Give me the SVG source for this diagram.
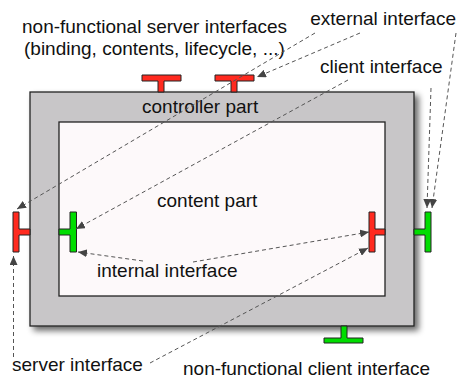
<svg xmlns="http://www.w3.org/2000/svg" width="460" height="378" viewBox="0 0 460 378">
  <style>
    text { font-family: "Liberation Sans", Arial, sans-serif; font-size: 19px; fill: #111; }
    .outer { fill: #c8c6c8; stroke: #222; stroke-width: 1.3; }
    .inner { fill: #fdf9fa; stroke: #222; stroke-width: 1.3; }
    .red { fill: #ff2a1f; stroke: #222; stroke-width: 1; }
    .green { fill: #00dd00; stroke: #222; stroke-width: 1; }
    .conn { fill: none; stroke: #555; stroke-width: 1; stroke-dasharray: 4 3; marker-end: url(#arrow); }
  </style>
  <defs>
    <marker id="arrow" markerUnits="userSpaceOnUse" markerWidth="10" markerHeight="8" refX="9" refY="4" orient="auto">
      <path d="M0,0 L9,4 L0,8 Z" fill="#444"/>
    </marker>
    <filter id="shadow" x="-10%" y="-10%" width="130%" height="130%">
      <feGaussianBlur in="SourceAlpha" stdDeviation="3"/>
      <feOffset dx="4" dy="4" result="b"/>
      <feComponentTransfer><feFuncA type="linear" slope="0.6"/></feComponentTransfer>
      <feMerge><feMergeNode/><feMergeNode in="SourceGraphic"/></feMerge>
    </filter>
  </defs>

  <g id="component">
    <rect class="outer" x="30" y="92" width="384" height="234" filter="url(#shadow)"/>
    <text x="142" y="113">controller part</text>
  </g>
  <g id="content">
    <rect class="inner" x="59" y="122" width="326" height="174"/>
    <text x="157" y="207">content part</text>
  </g>

  <g id="nf-server-1"><path class="red" d="M142,75 H181 V81 H164 V92 H158 V81 H142 Z"/></g>
  <g id="nf-server-2"><path class="red" d="M215,75 H254 V81 H237 V92 H231 V81 H215 Z"/></g>
  <g id="ext-server"><path class="red" d="M13,212 H19 V229 H30 V235 H19 V252 H13 Z"/></g>
  <g id="int-client"><path class="green" d="M70,212 H76.5 V252 H70 V235 H59 V229 H70 Z"/></g>
  <g id="int-server"><path class="red" d="M369,212 H375 V229 H385 V235 H375 V252 H369 Z"/></g>
  <g id="ext-client"><path class="green" d="M425,212 H431 V252 H425 V235 H414 V229 H425 Z"/></g>
  <g id="nf-client"><path class="green" d="M341,326 H347 V338 H363 V343 H324 V338 H341 Z"/></g>

  <g id="labels">
    <text x="22" y="33">non-functional server interfaces</text>
    <text x="24" y="55">(binding, contents, lifecycle, ...)</text>
    <text x="456" y="25" text-anchor="end">external interface</text>
    <text x="320" y="73">client interface</text>
    <text x="97" y="277">internal interface</text>
    <text x="12" y="371">server interface</text>
    <text x="183" y="374.5">non-functional client interface</text>
  </g>

  <g id="connectors">
    <line class="conn" x1="315" y1="33" x2="17" y2="209"/>
    <line class="conn" x1="360" y1="33" x2="257" y2="77"/>
    <line class="conn" x1="348" y1="80" x2="76" y2="229"/>
    <line class="conn" x1="431" y1="88" x2="427" y2="208"/>
    <line class="conn" x1="456" y1="33" x2="432" y2="208"/>
    <line class="conn" x1="143" y1="261" x2="78" y2="252"/>
    <line class="conn" x1="193" y1="262" x2="369" y2="232"/>
    <line class="conn" x1="150" y1="363" x2="368" y2="248"/>
    <line class="conn" x1="13.5" y1="357" x2="13.5" y2="256"/>
  </g>
</svg>
